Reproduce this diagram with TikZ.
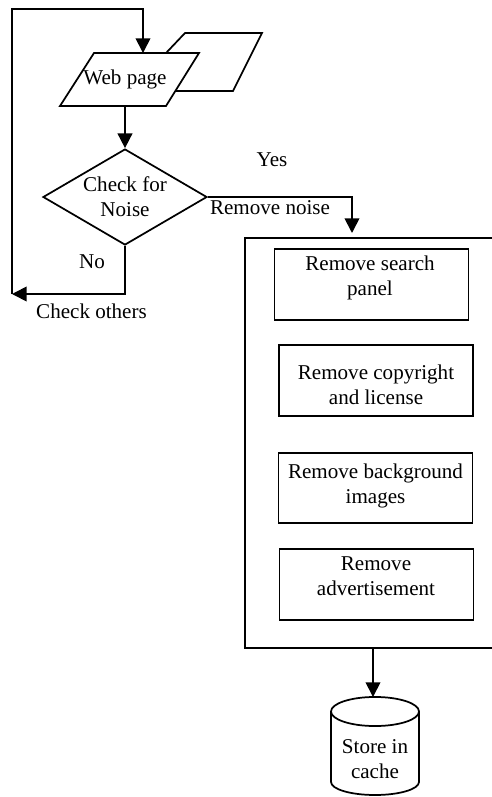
\documentclass[tikz,border=0pt]{standalone}
\usepackage{fontspec}
\setmainfont{Liberation Serif}
\usetikzlibrary{shapes.geometric,arrows.meta}
\begin{document}
\begin{tikzpicture}[x=0.75pt,y=-0.75pt,line width=1.3pt,
  font=\fontsize{15.8}{19}\selectfont,
  arr/.style={-{Triangle[length=11pt,width=11pt]}},
  txt/.style={align=center,inner sep=0pt},
  procbox/.style={draw,rectangle,inner sep=0pt,minimum width=145.5pt,minimum height=53pt}]
\clip (0,0) rectangle (492,797);
% web page (two stacked documents)
\draw[fill=white] (185,33) -- (262,33) -- (233,91) -- (130,91) -- cycle;
\draw[fill=white] (94,53) -- (199,53) -- (166,106) -- (60,106) -- cycle;
\node[txt] (web) at (125,79) {Web page};
\coordinate (webin) at (143,53);
\coordinate (webout) at (125,106);
% decision
\node[draw,diamond,aspect=1.7,inner sep=0pt,minimum width=123pt,minimum height=72pt,align=center] (noise) at (125,197) {Check for\\Noise};
% group box
\node[draw,rectangle,inner sep=0pt,anchor=north west,minimum width=200pt,minimum height=307.5pt] (grp) at (244,237) {};
\coordinate (grpin) at (352,237);
\coordinate (grpout) at (373,647);
% inner boxes
\node[procbox] (b1) at (371.5,284.5) {};
\node[txt] (t1) at (370,278) {Remove search\\panel};
\node[procbox] (b2) at (376,380.5) {};
\node[txt] (t2) at (376,385) {Remove copyright\\and license};
\node[procbox] (b3) at (375.5,488) {};
\node[txt] (t3) at (375.5,486) {Remove background\\images};
\node[procbox] (b4) at (376.5,584.5) {};
\node[txt] (t4) at (376,576) {Remove\\advertisement};
% cylinder
\draw (331,711.5) -- (331,782) arc[start angle=180,end angle=360,x radius=33pt,y radius=9.75pt] -- (419,711.5);
\draw (375,711.5) ellipse [x radius=33pt,y radius=10.9pt];
\coordinate (cyltop) at (373,697);
\node[txt] (cache) at (375,759) {Store in\\cache};
% loop coordinates
\coordinate (backL) at (12,294);
\coordinate (topL) at (12,9);
% connectors
\draw[arr] (backL) -- (topL) -| (webin);
\draw[arr] (webout) -- (noise.north);
\draw[arr] (noise.south) |- (backL);
\draw[arr,shorten >=3pt] (noise.east) -| (grpin);
\draw[arr] (grpout) -- (cyltop);
% labels
\node[txt] (yes) at (272,160) {Yes};
\node[txt] (rmn) at (270,208) {Remove noise};
\node[txt] (no) at (92,262) {No};
\node[txt] (cko) at (91.5,311) {Check others};
\end{tikzpicture}
\end{document}
